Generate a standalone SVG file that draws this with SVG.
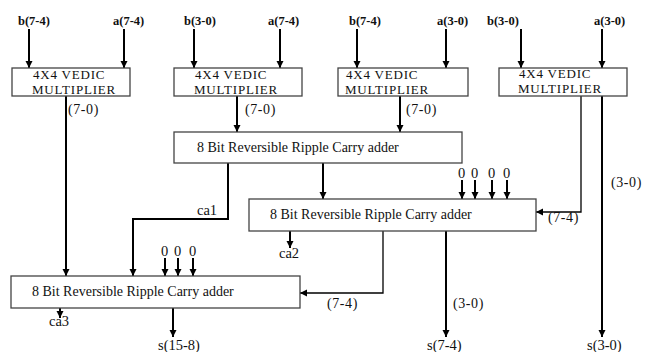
<svg xmlns="http://www.w3.org/2000/svg" width="654" height="352" viewBox="0 0 654 352">
<defs>
<marker id="ah" markerUnits="userSpaceOnUse" markerWidth="8" markerHeight="8" refX="7" refY="3.5" orient="auto">
<path d="M0,0 L7,3.5 L0,7 z" fill="#000"/>
</marker>
<style>
.box{fill:#fff;stroke:#444;stroke-width:1.3}
.t{font-family:"Liberation Serif","Times New Roman",serif;font-size:14.5px;fill:#111}
.m{font-family:"Liberation Serif","Times New Roman",serif;font-size:13px;letter-spacing:0.8px;fill:#111}
.ad{font-family:"Liberation Serif","Times New Roman",serif;font-size:14px;fill:#111}
.in{font-family:"Liberation Serif","Times New Roman",serif;font-size:12.5px;font-weight:bold;fill:#111}
.lb{font-family:"Liberation Serif","Times New Roman",serif;font-size:14px;letter-spacing:0.6px;fill:#111}
.w{fill:none;stroke:#000;stroke-width:2}
.wt{fill:none;stroke:#000;stroke-width:1.3}
.a{marker-end:url(#ah)}
</style>
</defs>
<rect width="654" height="352" fill="#fff"/>

<g id="connectors">
<path class="w a" d="M29,29 V68"/>
<path class="w a" d="M124,29 V68"/>
<path class="w a" d="M194,29 V68"/>
<path class="w a" d="M280,29 V68"/>
<path class="w a" d="M357,29 V68"/>
<path class="w a" d="M446,29 V68"/>
<path class="w a" d="M521,29 V68"/>
<path class="w a" d="M602,29 V68"/>
<path class="w a" d="M66,96 V276"/>
<path class="w a" d="M237,96 V132"/>
<path class="w a" d="M400,96 V132"/>
<path class="wt a" d="M581,96 V212 H536"/>
<path class="w a" d="M602,96 V337"/>
<path class="w a" d="M228,163 V219 H133 V276"/>
<path class="w a" d="M323,163 V199"/>
<path class="w a" d="M462,180 V199"/>
<path class="w a" d="M475,180 V199"/>
<path class="w a" d="M492,180 V199"/>
<path class="w a" d="M507,180 V199"/>
<path class="w a" d="M290,231 V248"/>
<path class="wt a" d="M383,231 V293 H300"/>
<path class="w a" d="M446,231 V337"/>
<path class="w a" d="M165,258 V276"/>
<path class="w a" d="M178,258 V276"/>
<path class="w a" d="M193,258 V276"/>
<path class="w a" d="M60,308 V318"/>
<path class="w a" d="M173,308 V337"/>
</g>

<g id="inputs">
<text class="in" x="18" y="25">b(7-4)</text>
<text class="in" x="113" y="25">a(7-4)</text>
<text class="in" x="184" y="25">b(3-0)</text>
<text class="in" x="268" y="25">a(7-4)</text>
<text class="in" x="349" y="25">b(7-4)</text>
<text class="in" x="437" y="25">a(3-0)</text>
<text class="in" x="487" y="25">b(3-0)</text>
<text class="in" x="594" y="25">a(3-0)</text>
</g>

<g id="mult1">
<rect class="box" x="12" y="68" width="118" height="28"/>
<text class="m" x="33" y="79">4X4 VEDIC</text>
<text class="m" x="32" y="94">MULTIPLIER</text>
</g>
<g id="mult2">
<rect class="box" x="174" y="68" width="128" height="28"/>
<text class="m" x="195" y="79">4X4 VEDIC</text>
<text class="m" x="194" y="94">MULTIPLIER</text>
</g>
<g id="mult3">
<rect class="box" x="338" y="68" width="130" height="28"/>
<text class="m" x="346" y="79">4X4 VEDIC</text>
<text class="m" x="345" y="94">MULTIPLIER</text>
</g>
<g id="mult4">
<rect class="box" x="499" y="68" width="128" height="28"/>
<text class="m" x="519" y="78">4X4 VEDIC</text>
<text class="m" x="518" y="93">MULTIPLIER</text>
</g>

<g id="adder1">
<rect class="box" x="174" y="132" width="288" height="31"/>
<text class="ad" x="197" y="152">8 Bit Reversible Ripple Carry adder</text>
</g>
<g id="adder2">
<rect class="box" x="249" y="199" width="287" height="32"/>
<text class="ad" x="270" y="219">8 Bit Reversible Ripple Carry adder</text>
</g>
<g id="adder3">
<rect class="box" x="11" y="276" width="289" height="32"/>
<text class="ad" x="32" y="296">8 Bit Reversible Ripple Carry adder</text>
</g>

<g id="labels">
<text class="lb" x="68" y="114">(7-0)</text>
<text class="lb" x="245" y="114">(7-0)</text>
<text class="lb" x="406" y="114">(7-0)</text>
<text class="lb" x="611" y="187">(3-0)</text>
<text class="lb" x="548" y="222">(7-4)</text>
<text class="t" x="197" y="215">ca1</text>
<text class="t" x="458" y="178">0</text>
<text class="t" x="471" y="178">0</text>
<text class="t" x="488" y="178">0</text>
<text class="t" x="503" y="178">0</text>
<text class="t" x="161" y="256">0</text>
<text class="t" x="174" y="256">0</text>
<text class="t" x="189" y="256">0</text>
<text class="t" x="279" y="258">ca2</text>
<text class="t" x="49" y="326">ca3</text>
<text class="lb" x="327" y="308">(7-4)</text>
<text class="lb" x="453" y="308">(3-0)</text>
<text class="t" x="158" y="350">s(15-8)</text>
<text class="t" x="427" y="350">s(7-4)</text>
<text class="t" x="587" y="350">s(3-0)</text>
</g>
</svg>
